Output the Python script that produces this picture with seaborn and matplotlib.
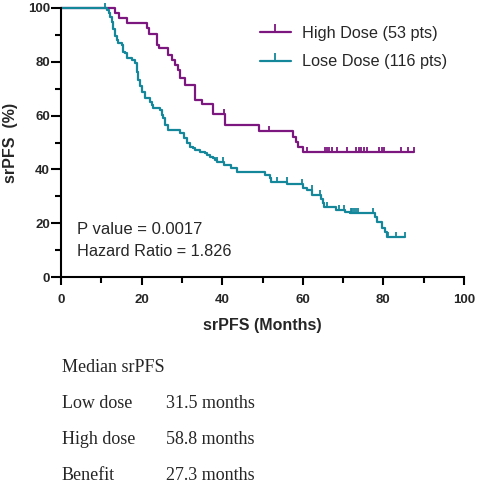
import numpy as np
import pandas as pd
import matplotlib
matplotlib.use("Agg")
import matplotlib.pyplot as plt
from matplotlib.path import Path
from matplotlib.lines import Line2D
import seaborn as sns

# ---------------- data ----------------
high_label = "High Dose (53 pts)"
low_label = "Lose Dose (116 pts)"

high_event_t = [0, 13.4, 14.5, 16.5, 21.3, 21.9, 23.7, 24.4, 26.6, 27.5, 28.3, 29.1, 29.5,
                30.8, 33.3, 34.9, 37.8, 40.7, 49.2, 57.5, 58.2, 58.7, 60.1]
high_event_s = [100, 98.1, 96.2, 94.3, 92.4, 90.3, 86.2, 85.0, 82.6, 80.7, 78.8, 76.9, 73.9,
                71.4, 65.8, 64.2, 60.6, 56.4, 54.3, 52.2, 50.2, 48.2, 46.4]
high_censor_t = [40.5, 51.7, 61.0, 65.5, 66.1, 66.6, 67.2, 68.4, 70.9, 73.1, 73.9, 74.5,
                 75.2, 76.0, 78.8, 79.6, 80.2, 84.3, 86.0, 87.5]

low_event_t = [0, 11.3, 11.8, 12.2, 12.6, 13.0, 13.4, 13.8, 14.2, 15.1, 15.3, 15.5, 15.9,
               16.3, 17.5, 18.4, 18.8, 19.0, 19.2, 19.6, 20.0, 20.8, 22.1, 22.5, 22.9, 24.6,
               25.0, 25.4, 25.8, 26.6, 29.5, 30.4, 31.2, 32.0, 32.8, 33.3, 34.5, 35.7, 36.2,
               37.0, 37.8, 38.2, 38.7, 40.5, 42.3, 43.6, 50.6, 51.9, 52.2, 56.1, 60.1, 61.0,
               62.4, 64.5, 65.0, 65.3, 68.2, 70.5, 71.7, 77.9, 78.3, 79.6, 80.4, 80.8]
low_event_s = [100, 99.1, 98.3, 96.6, 94.8, 92.2, 89.7, 88.0, 86.9, 86.2, 85.3, 83.8, 83.2,
               81.3, 80.7, 79.4, 76.3, 74.5, 73.2, 71.0, 68.9, 66.4, 65.2, 63.9, 62.7, 62.1,
               60.3, 59.0, 56.5, 54.6, 53.4, 51.6, 49.7, 48.4, 47.8, 47.2, 46.6, 46.0, 45.4,
               44.7, 44.1, 43.5, 42.9, 41.6, 40.4, 39.1, 37.9, 36.7, 35.4, 34.4, 33.0, 32.3,
               30.5, 29.0, 27.4, 26.1, 24.9, 24.3, 23.7, 22.4, 20.6, 18.1, 16.8, 15.0]
low_censor_t = [10.8, 38.8, 40.3, 53.7, 56.0, 59.9, 62.2, 64.3, 65.9, 69.1, 70.1, 72.0,
                72.3, 72.7, 73.1, 73.6, 77.5, 80.9, 81.2, 83.1, 85.4]

x_ticks = [0, 20, 40, 60, 80, 100]
y_ticks = [0, 20, 40, 60, 80, 100]
annot_lines = ["P value = 0.0017", "Hazard Ratio = 1.826"]
table_rows = [("Median srPFS", ""), ("Low dose", "31.5 months"),
              ("High dose", "58.8 months"), ("Benefit", "27.3 months")]

PURPLE = "#7d1780"
TEAL = "#15879b"

# ---------------- styling ----------------
sns.set_style("ticks")
plt.rcParams["font.family"] = ["Liberation Sans", "DejaVu Sans"]

fig = plt.figure(figsize=(4.78, 4.88), dpi=100)
W, H = 478, 488
ax = fig.add_axes([61 / W, 1 - 277 / H, 403 / W, 269 / H])

tick_marker = Path([(0, 0), (0, 1)], [Path.MOVETO, Path.LINETO])


def curve_frame(ev_t, ev_s, cens_t):
    t = list(ev_t) + [max(cens_t)]
    s = list(ev_s) + [ev_s[-1]]
    return pd.DataFrame({"t": t, "s": s})


def censor_frame(ev_t, ev_s, cens_t):
    idx = np.searchsorted(np.asarray(ev_t), np.asarray(cens_t), side="right") - 1
    return pd.DataFrame({"t": cens_t, "s": np.asarray(ev_s)[idx]})


for ev_t, ev_s, cens_t, col in [(high_event_t, high_event_s, high_censor_t, PURPLE),
                                (low_event_t, low_event_s, low_censor_t, TEAL)]:
    df = curve_frame(ev_t, ev_s, cens_t)
    sns.lineplot(data=df, x="t", y="s", ax=ax, color=col, lw=1.6,
                 drawstyle="steps-post", estimator=None, sort=False, clip_on=False)
    cf = censor_frame(ev_t, ev_s, cens_t)
    ax.plot(cf["t"], cf["s"], ls="none", marker=tick_marker, markersize=7.5,
            markeredgewidth=1.3, color=col, clip_on=False)

ax.set_xlim(0, 100)
ax.set_ylim(0, 100)
ax.set_xticks(x_ticks)
ax.set_yticks(y_ticks)
ax.set_xticks(range(10, 100, 20), minor=True)
ax.set_yticks(range(10, 100, 20), minor=True)
ax.set_xticklabels([str(v) for v in x_ticks], fontweight="bold", fontsize=9.5)
ax.set_yticklabels([str(v) for v in y_ticks], fontweight="bold", fontsize=9.5)
sns.despine(ax=ax)
for sp in ("left", "bottom"):
    ax.spines[sp].set_linewidth(1.5)
    ax.spines[sp].set_color("black")
ax.tick_params(axis="x", which="major", length=6, width=1.5, pad=6, color="black")
ax.tick_params(axis="y", which="major", length=7, width=1.5, pad=1, color="black")
ax.tick_params(which="minor", length=4, width=1.5, color="black")

ax.set_xlabel("srPFS (Months)", fontweight="bold", fontsize=11.5, labelpad=9)
ax.set_ylabel("srPFS  (%)", fontweight="bold", fontsize=11.5, labelpad=7)

ax.text(4.0, 17.5, annot_lines[0], fontsize=12, va="center", ha="left")
ax.text(4.0, 9.4, annot_lines[1], fontsize=11.7, va="center", ha="left")

handles = [Line2D([], [], color=PURPLE, lw=1.6, marker=tick_marker, markersize=12,
                  markeredgewidth=1.3),
           Line2D([], [], color=TEAL, lw=1.6, marker=tick_marker, markersize=12,
                  markeredgewidth=1.3)]
ax.legend(handles, [high_label, low_label], loc="upper left",
          bbox_to_anchor=((260 - 61) / 403, (277 - 26) / 269), frameon=False,
          borderpad=0, borderaxespad=0, handlelength=1.9, handletextpad=0.7,
          labelspacing=0.83, fontsize=11.7, numpoints=1)

# table below the chart
serif = ["Liberation Serif", "DejaVu Serif"]
row_y = [368, 404, 440, 476]
for (a, b), yy in zip(table_rows, row_y):
    fig.text(62 / W, 1 - yy / H, a, family=serif, fontsize=13, va="center", ha="left")
    if b:
        fig.text(166 / W, 1 - yy / H, b, family=serif, fontsize=13, va="center", ha="left")

fig.savefig("out.png", dpi=100)
